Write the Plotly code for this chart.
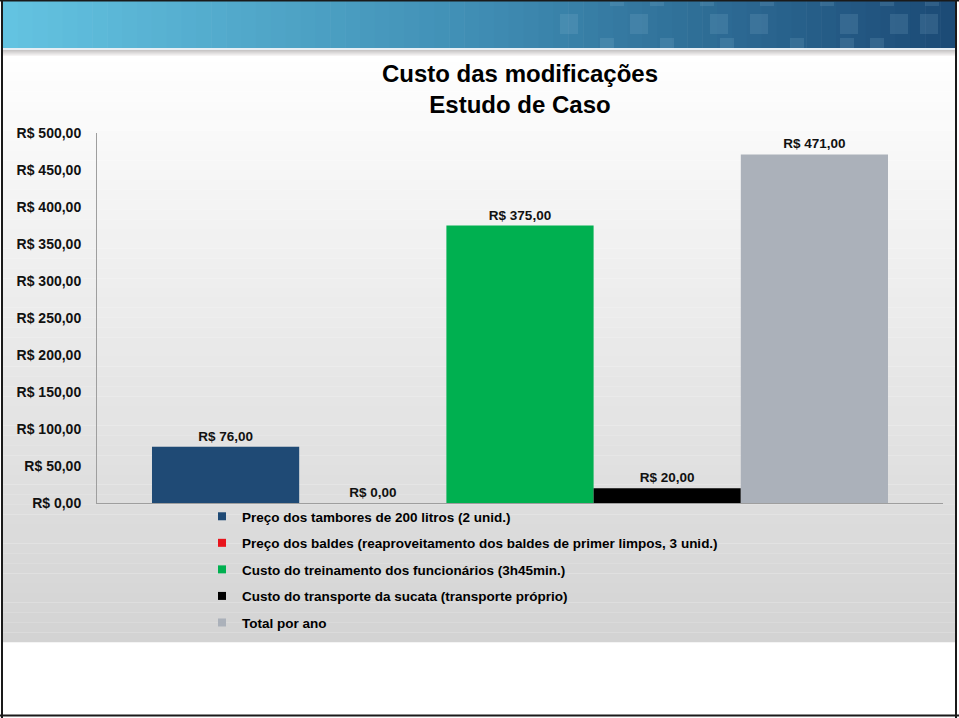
import plotly.graph_objects as go

# ---------------- data ----------------
categories = ["Estudo de Caso"]
series_names = [
    "Preço dos tambores de 200 litros (2 unid.)",
    "Preço dos baldes (reaproveitamento dos baldes de primer limpos, 3 unid.)",
    "Custo do treinamento dos funcionários (3h45min.)",
    "Custo do transporte da sucata (transporte próprio)",
    "Total por ano",
]
series_values = [76, 0, 375, 20, 471]
series_colors = ["#1f4a75", "#e8141c", "#00b050", "#000000", "#abb1ba"]
tick_values = [0, 50, 100, 150, 200, 250, 300, 350, 400, 450, 500]
tick_labels = ["R$ 0,00", "R$ 50,00", "R$ 100,00", "R$ 150,00", "R$ 200,00",
               "R$ 250,00", "R$ 300,00", "R$ 350,00", "R$ 400,00", "R$ 450,00",
               "R$ 500,00"]

W, H = 959, 718
L, R, T, B = 97, 16, 133, 215
PW, PH = W - L - R, H - T - B
FONT = "Liberation Sans, Arial, sans-serif"


def brl(v):
    return "R$ " + f"{v:.2f}".replace(".", ",")


def px(x):
    return (x - L) / PW


def py(y):
    return (H - B - y) / PH


fig = go.Figure()

for name, val, col in zip(series_names, series_values, series_colors):
    fig.add_trace(go.Bar(
        x=categories, y=[val], name=name, marker=dict(color=col, line=dict(width=0)),
        text=["<b>" + brl(val) + "</b>"], textposition="outside", cliponaxis=False,
        textfont=dict(family=FONT, size=13.5, color="#111111"),
        showlegend=False, hoverinfo="name+y",
    ))

for name, col in zip(series_names, series_colors):
    fig.add_trace(go.Scatter(
        x=[None], y=[None], mode="markers", name="<b>" + name + "</b>", legendgroup=name,
        marker=dict(symbol="square", size=8, color=col), showlegend=True,
    ))

shapes = []
# page background gradient (white -> light grey)
y0, y1 = 52, 642
n = 60
for i in range(n):
    a = y0 + (y1 - y0) * i / n
    b = y0 + (y1 - y0) * (i + 1) / n
    t = (i + 0.5) / n
    g = int(round(255 - (255 - 211) * t))
    shapes.append(dict(type="rect", xref="paper", yref="paper", layer="below",
                       x0=px(3), x1=px(955), y0=py(a), y1=py(b) - 0.0005,
                       fillcolor=f"rgb({g},{g},{g})", line=dict(width=0)))
# shadow below header
for i in range(6):
    g = int(200 + i * 9)
    shapes.append(dict(type="rect", xref="paper", yref="paper", layer="below",
                       x0=px(3), x1=px(955), y0=py(50 + i), y1=py(51 + i),
                       fillcolor=f"rgb({g},{g - 2},{g - 2})", line=dict(width=0)))
# header band gradient
c_left = (100, 196, 226)
c_mid = (64, 142, 180)
c_right = (28, 74, 118)
m = 64
for i in range(m):
    t = (i + 0.5) / m
    if t < 0.5:
        u = t / 0.5
        c = [int(c_left[k] + (c_mid[k] - c_left[k]) * u) for k in range(3)]
    else:
        u = (t - 0.5) / 0.5
        c = [int(c_mid[k] + (c_right[k] - c_mid[k]) * u) for k in range(3)]
    xa = 3 + (955 - 3) * i / m
    xb = 3 + (955 - 3) * (i + 1) / m + 0.6
    shapes.append(dict(type="rect", xref="paper", yref="paper", layer="below",
                       x0=px(xa), x1=px(xb), y0=py(1), y1=py(48),
                       fillcolor=f"rgb({c[0]},{c[1]},{c[2]})", line=dict(width=0)))
# decorative squares in header
squares = [
    (610, 2, 14, 4), (650, 2, 14, 4), (700, 2, 14, 4), (760, 2, 14, 4),
    (820, 2, 14, 4), (880, 2, 14, 4), (925, 2, 14, 4),
    (560, 14, 18, 20), (630, 14, 18, 20), (710, 14, 18, 20), (750, 14, 18, 20),
    (840, 14, 18, 20), (890, 14, 18, 20), (920, 14, 18, 20),
    (600, 38, 14, 10), (660, 38, 14, 10), (720, 38, 14, 10), (790, 38, 14, 10),
    (840, 38, 14, 10), (870, 38, 14, 10),
]
for sx, sy, sw, sh in squares:
    shapes.append(dict(type="rect", xref="paper", yref="paper", layer="below",
                       x0=px(sx), x1=px(sx + sw), y0=py(sy), y1=py(sy + sh),
                       fillcolor="rgba(150,190,220,0.16)", line=dict(width=0)))
# light line under header
shapes.append(dict(type="rect", xref="paper", yref="paper", layer="below",
                   x0=px(3), x1=px(955), y0=py(48), y1=py(50),
                   fillcolor="#e6eef4", line=dict(width=0)))
# frame
for (xa, xb, ya, yb) in [(0, 959, 0, 1.5), (1, 3, 0, 718), (955, 957, 0, 718), (0, 959, 714.5, 716.5)]:
    shapes.append(dict(type="rect", xref="paper", yref="paper", layer="above",
                       x0=px(xa), x1=px(xb), y0=py(ya), y1=py(yb),
                       fillcolor="#1a1a1a", line=dict(width=0)))

fig.update_layout(
    width=W, height=H,
    margin=dict(l=L, r=R, t=T, b=B, pad=0),
    paper_bgcolor="#ffffff", plot_bgcolor="rgba(0,0,0,0)",
    barmode="group", bargap=0.13, bargroupgap=0,
    font=dict(family=FONT, size=13, color="#111111"),
    title=dict(text="<b>Custo das modificações</b><br><b>Estudo de Caso</b>",
               x=0.5, xref="paper", xanchor="center",
               y=1 - 82 / H, yref="container", yanchor="middle",
               font=dict(family=FONT, size=24, color="#000000")),
    xaxis=dict(showticklabels=False, showgrid=False, zeroline=False,
               showline=True, linecolor="#9e9e9e", linewidth=1, ticks=""),
    yaxis=dict(range=[0, 500], tickvals=tick_values,
               ticktext=["<b>" + s + "</b>" for s in tick_labels],
               showgrid=False, zeroline=False, showline=True,
               linecolor="#9e9e9e", linewidth=1, ticks="",
               ticklabelstandoff=12,
               tickfont=dict(family=FONT, size=14, color="#111111")),
    legend=dict(x=px(202), y=py(501), xanchor="left", yanchor="top",
                bgcolor="rgba(0,0,0,0)", traceorder="grouped",
                tracegroupgap=6, itemwidth=30,
                font=dict(family=FONT, size=13.5, color="#000000")),
    shapes=shapes,
    showlegend=True,
)

fig.write_html("out.html")
